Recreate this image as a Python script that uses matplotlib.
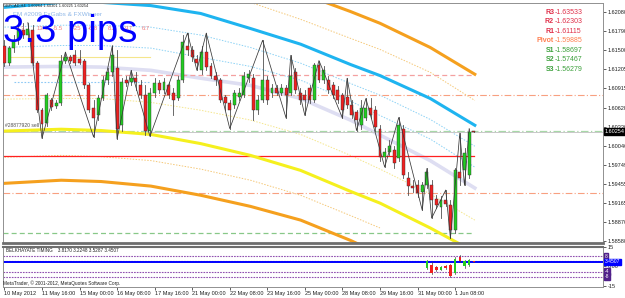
import matplotlib
matplotlib.use("Agg")
import matplotlib.pyplot as plt
import matplotlib.transforms as mtrans

plt.rcParams['font.family'] = ['Liberation Sans', 'DejaVu Sans']

# GBPCAD H4 candles (bar 0 = 10 May 2012)
opens = [1.6157, 1.6131, 1.6153, 1.6165, 1.6180, 1.6173, 1.6180, 1.6130, 1.6058, 1.6038,
         1.6073, 1.6064, 1.6069, 1.6134, 1.6139, 1.6142, 1.6137, 1.6134, 1.6096, 1.6061,
         1.6050, 1.6076, 1.6104, 1.6116, 1.6122, 1.6035, 1.6104, 1.6101, 1.6107, 1.6096,
         1.6081, 1.6027, 1.6085, 1.6099, 1.6089, 1.6096, 1.6085, 1.6076, 1.6104, 1.6157,
         1.6150, 1.6137, 1.6119, 1.6147, 1.6125, 1.6111, 1.6104, 1.6078, 1.6069, 1.6066,
         1.6079, 1.6081, 1.6107, 1.6107, 1.6058, 1.6073, 1.6104, 1.6084, 1.6092, 1.6085,
         1.6092, 1.6084, 1.6116, 1.6085, 1.6081, 1.6092, 1.6073, 1.6127, 1.6104, 1.6104,
         1.6096, 1.6089, 1.6081, 1.6078, 1.6066, 1.6055, 1.6035, 1.6046, 1.6061, 1.6058,
         1.6030, 1.5986, 1.5994, 1.5997, 1.5985, 1.6030, 1.5954, 1.5942, 1.5943, 1.5933,
         1.5943, 1.5943, 1.5923, 1.5910, 1.5920, 1.5913, 1.5875, 1.5963, 1.5966, 1.5959,
         1.6026]
highs = [1.6165, 1.6157, 1.6173, 1.6188, 1.6192, 1.6192, 1.6188, 1.6134, 1.6061, 1.6084,
         1.6076, 1.6073, 1.6142, 1.6147, 1.6143, 1.6150, 1.6150, 1.6137, 1.6099, 1.6073,
         1.6081, 1.6111, 1.6122, 1.6157, 1.6150, 1.6107, 1.6111, 1.6119, 1.6116, 1.6104,
         1.6096, 1.6092, 1.6107, 1.6104, 1.6107, 1.6101, 1.6092, 1.6111, 1.6173, 1.6176,
         1.6157, 1.6142, 1.6157, 1.6176, 1.6131, 1.6116, 1.6107, 1.6081, 1.6073, 1.6089,
         1.6092, 1.6116, 1.6119, 1.6113, 1.6081, 1.6165, 1.6110, 1.6098, 1.6096, 1.6098,
         1.6096, 1.6142, 1.6122, 1.6092, 1.6089, 1.6096, 1.6131, 1.6134, 1.6125, 1.6110,
         1.6101, 1.6095, 1.6085, 1.6107, 1.6073, 1.6058, 1.6073, 1.6076, 1.6076, 1.6064,
         1.6035, 1.6000, 1.6012, 1.6004, 1.6047, 1.6035, 1.5963, 1.5951, 1.5951, 1.5948,
         1.5969, 1.5951, 1.5928, 1.5927, 1.5936, 1.5920, 1.5969, 1.6023, 1.6000, 1.6030,
         1.6027]
lows = [1.6125, 1.6127, 1.6147, 1.6159, 1.6168, 1.6165, 1.6127, 1.6055, 1.6015, 1.6034,
        1.6058, 1.6061, 1.6066, 1.6131, 1.6131, 1.6127, 1.6128, 1.6092, 1.6055, 1.6017,
        1.6043, 1.6073, 1.6098, 1.6111, 1.6014, 1.6027, 1.6095, 1.6096, 1.6089, 1.6076,
        1.6020, 1.6018, 1.6079, 1.6084, 1.6085, 1.6076, 1.6050, 1.6073, 1.6101, 1.6142,
        1.6134, 1.6119, 1.6113, 1.6119, 1.6107, 1.6096, 1.6070, 1.6058, 1.6030, 1.6061,
        1.6073, 1.6078, 1.6101, 1.6043, 1.6052, 1.6070, 1.6067, 1.6079, 1.6081, 1.6082,
        1.6046, 1.6081, 1.6084, 1.6067, 1.6050, 1.6069, 1.6070, 1.6101, 1.6099, 1.6085,
        1.6076, 1.6069, 1.6046, 1.6061, 1.6046, 1.6027, 1.6030, 1.6043, 1.6046, 1.6027,
        1.5981, 1.5971, 1.5989, 1.5969, 1.5981, 1.5954, 1.5928, 1.5933, 1.5925, 1.5905,
        1.5939, 1.5893, 1.5908, 1.5893, 1.5911, 1.5862, 1.5870, 1.5943, 1.5943, 1.5954,
        1.6024]
closes = [1.6131, 1.6153, 1.6165, 1.6180, 1.6173, 1.6183, 1.6130, 1.6058, 1.6037, 1.6081,
          1.6063, 1.6069, 1.6134, 1.6139, 1.6134, 1.6130, 1.6131, 1.6096, 1.6058, 1.6046,
          1.6076, 1.6104, 1.6116, 1.6142, 1.6030, 1.6101, 1.6099, 1.6107, 1.6101, 1.6081,
          1.6027, 1.6085, 1.6099, 1.6089, 1.6101, 1.6081, 1.6073, 1.6104, 1.6162, 1.6150,
          1.6139, 1.6131, 1.6147, 1.6124, 1.6111, 1.6104, 1.6073, 1.6069, 1.6058, 1.6084,
          1.6084, 1.6110, 1.6113, 1.6058, 1.6073, 1.6104, 1.6073, 1.6092, 1.6085, 1.6092,
          1.6081, 1.6111, 1.6089, 1.6073, 1.6073, 1.6073, 1.6127, 1.6104, 1.6119, 1.6089,
          1.6081, 1.6073, 1.6058, 1.6066, 1.6050, 1.6043, 1.6061, 1.6061, 1.6050, 1.6032,
          1.5986, 1.5994, 1.6004, 1.5978, 1.6035, 1.5959, 1.5942, 1.5939, 1.5931, 1.5943,
          1.5963, 1.5920, 1.5913, 1.5920, 1.5914, 1.5875, 1.5966, 1.5954, 1.5992, 1.6024,
          1.6025]

# zigzag swing points
zz_bar = [5, 8, 13, 19, 23, 24, 27, 31, 39, 41, 43, 48, 55, 60, 61, 64, 67, 72, 73, 75,
          77, 81, 84, 89, 90, 91, 94, 95, 97, 98, 99]
zz_val = [1.6192, 1.6015, 1.6147, 1.6017, 1.6157, 1.6014, 1.6119, 1.6018, 1.6176, 1.6119,
          1.6176, 1.6030, 1.6165, 1.6046, 1.6142, 1.6050, 1.6134, 1.6046, 1.6107, 1.6027,
          1.6076, 1.5971, 1.6047, 1.5905, 1.5969, 1.5893, 1.5936, 1.5862, 1.6023, 1.5943,
          1.6030]

# regression channel curves read at these bars
curve_bar = [-0.6, 12.1, 20.6, 31.2, 41.8, 52.4, 63.1, 73.7, 80.0, 90.7, 100.2]
blue_curve = [1.6215, 1.6223, 1.6223, 1.6218, 1.6206, 1.6183, 1.6159, 1.6128, 1.6111, 1.6076, 1.6035]
mid_curve = [1.6124, 1.6125, 1.6124, 1.6119, 1.6107, 1.6096, 1.6076, 1.6043, 1.6020, 1.5981, 1.5939]
yellow_curve = [1.6026, 1.6029, 1.6027, 1.6021, 1.6007, 1.5989, 1.5966, 1.5934, 1.5916, 1.5878, 1.5841]
blue_dot1 = [1.6185, 1.6188, 1.6188, 1.6185, 1.6173, 1.6154, 1.6130, 1.6099, 1.6081, 1.6044, 1.6003]
blue_dot2 = [1.6154, 1.6157, 1.6157, 1.6153, 1.6139, 1.6125, 1.6104, 1.6072, 1.6050, 1.6014, 1.5971]
yellow_dot = [1.6075, 1.6076, 1.6076, 1.6070, 1.6058, 1.6043, 1.6021, 1.5989, 1.5968, 1.5930, 1.5890]
orange_low_bar = [-0.6, 12.1, 20.6, 31.2, 41.8, 52.4, 63.1, 73.7, 80.0]
orange_low = [1.5946, 1.5951, 1.5949, 1.5942, 1.5928, 1.5911, 1.5890, 1.5859, 1.5838]
orange_low_dot = [1.5986, 1.5989, 1.5987, 1.5981, 1.5968, 1.5951, 1.5928, 1.5897, 1.5878]
orange_top_bar = [52.4, 63.1, 73.7, 80.0, 90.7, 100.2]
orange_top = [1.6261, 1.6237, 1.6209, 1.6191, 1.6154, 1.6113]
orange_top_dot_bar = [41.8, 52.4, 63.1, 73.7, 80.0, 90.7, 100.2]
orange_top_dot = [1.6257, 1.6223, 1.6197, 1.6168, 1.6151, 1.6116, 1.6073]

# pivot levels
pivot_names = ["R3", "R2", "R1", "Pivot", "S1", "S2", "S3"]
pivot_values = [1.63533, 1.62303, 1.61115, 1.59885, 1.58697, 1.57467, 1.56279]
level_hi = 1.6081
level_lo = 1.5931
order_price = 1.6027
last_price = 1.60254

price_ticks = [1.62080, 1.61790, 1.61500, 1.61205, 1.60915, 1.60620, 1.60330,
               1.60040, 1.59749, 1.59455, 1.59165, 1.58870, 1.58580]
date_labels = ["10 May 2012", "11 May 16:00", "15 May 00:00", "16 May 08:00", "17 May 16:00",
               "21 May 00:00", "22 May 08:00", "23 May 16:00", "25 May 00:00", "28 May 08:00",
               "29 May 16:00", "31 May 00:00", "1 Jun 08:00"]
date_bars = [0, 8, 16, 24, 32, 40, 48, 56, 64, 72, 80, 88, 96]

gap_values = ["-6.3", "13.3", "-5.5", "-25", "-6.8", "8.2", "9.7", "6.7"]

# Belkhayate timing candles (last bars only)
bt_bar = [90, 91, 92, 93, 94, 95, 96, 97, 98, 99, 100]
bt_open = [-1.5, 1.0, -0.5, -2.5, 0.5, 1.0, -5.0, 7.5, 0.5, 1.0, 3.817]
bt_high = [4.9, 3.0, 0.0, 0.5, 1.0, 1.5, 7.0, 8.5, 5.0, 6.0, 3.817]
bt_low = [-2.1, -6.0, -3.5, -3.0, -2.0, -8.0, -6.0, 3.5, -1.0, 0.0, 3.2248]
bt_close = [4.0, -5.0, -3.0, -0.5, -1.5, -7.5, 6.0, 4.0, 4.5, 5.0, 3.4507]
bt_last = 3.4507

W, H = 625, 298


def box(x0, y0, x1, y1):
    return [x0 / W, 1 - y1 / H, (x1 - x0) / W, (y1 - y0) / H]


fig = plt.figure(figsize=(6.25, 2.98), dpi=100)
fig.patch.set_facecolor("white")
ax = fig.add_axes(box(3, 3, 603, 243))
axi = fig.add_axes(box(3, 247, 603, 287))

xmin, xmax = -0.3, 127.5
nb = len(closes)

# ---- channel lines
ax.plot(curve_bar, mid_curve, color="#dedef2", lw=2.6, zorder=1)
ax.plot(curve_bar, blue_curve, color="#1eb4f0", lw=2.2, zorder=2)
ax.plot(curve_bar, yellow_curve, color="#f5f01e", lw=2.2, zorder=2)
ax.plot(orange_low_bar, orange_low, color="#f5a01e", lw=2.2, zorder=2)
ax.plot(orange_top_bar, orange_top, color="#f5a01e", lw=2.2, zorder=2)
ax.plot(curve_bar, blue_dot1, color="#8cd2f5", lw=0.7, ls=(0, (1.5, 1.5)), zorder=1)
ax.plot(curve_bar, blue_dot2, color="#8cd2f5", lw=0.7, ls=(0, (1.5, 1.5)), zorder=1)
ax.plot(curve_bar, yellow_dot, color="#f5e68c", lw=0.7, ls=(0, (1.5, 1.5)), zorder=1)
ax.plot(orange_low_bar, orange_low_dot, color="#f5c878", lw=0.7, ls=(0, (1.5, 1.5)), zorder=1)
ax.plot(orange_top_dot_bar, orange_top_dot, color="#f5c878", lw=0.7, ls=(0, (1.5, 1.5)), zorder=1)

# ---- horizontal levels
ax.plot([xmin, 100], [pivot_values[2]] * 2, color="#f4a0a0", lw=0.9, ls=(0, (4, 2.5)), zorder=1)
ax.plot([xmin, 100], [pivot_values[3]] * 2, color="#ff2020", lw=0.9, zorder=1)
ax.plot([xmin, 100], [pivot_values[4]] * 2, color="#88c888", lw=0.9, ls=(0, (4, 2.5)), zorder=1)
ax.axhline(level_hi, color="#f8a080", lw=0.8, ls=(0, (6, 2, 1, 2)), zorder=1)
ax.axhline(level_lo, color="#f8a080", lw=0.8, ls=(0, (6, 2, 1, 2)), zorder=1)
ax.axhline(order_price, color="#a8d8a8", lw=0.9, ls=(0, (6, 2, 1, 2)), zorder=1)
ax.axhline(last_price, color="#c8c8c8", lw=0.7, zorder=1)
ax.plot([1.5, 31], [1.6139, 1.6139], color="#f5e68c", lw=0.8, zorder=1)
ax.plot([2, 31], [1.6101, 1.6101], color="#8cc8f5", lw=0.8, ls=(0, (1.5, 1.5)), zorder=1)

# ---- candles
for i in range(nb):
    o, h, l, c = opens[i], highs[i], lows[i], closes[i]
    ax.plot([i, i], [l, h], color="#505050", lw=0.6, zorder=3)
    col = "#22cc22" if c >= o else "#f02020"
    lo, hi = min(o, c), max(o, c)
    ax.bar(i, max(hi - lo, 0.00003), bottom=lo, width=0.62, color=col,
           edgecolor="#303030", linewidth=0.3, zorder=4)

ax.plot(zz_bar, zz_val, color="#383838", lw=0.55, zorder=5)

ax.set_xlim(xmin, xmax)
ax.set_ylim(1.5855, 1.6222)
ax.set_xticks([])
ax.yaxis.tick_right()
ax.set_yticks(price_ticks)
ax.set_yticklabels(["%.5f" % v for v in price_ticks])
ax.tick_params(axis="y", labelsize=4, length=2, width=0.5, pad=1.5, colors="#202020")
for s in ax.spines.values():
    s.set_color("#909090")
    s.set_linewidth(0.7)
ax.spines["bottom"].set_color("#6e6e6e")
ax.spines["bottom"].set_linewidth(2)

# last price box
tr = mtrans.blended_transform_factory(ax.transAxes, ax.transData)
ax.text(1.003, last_price, "%.5f" % last_price, transform=tr, fontsize=4, color="white",
        va="center", ha="left", bbox=dict(boxstyle="square,pad=0.15", fc="black", ec="black"),
        zorder=10, clip_on=False)

# ---- texts on main chart
fig.text(3 / W, 1 - 6 / H, "GBPCAD,H4  1.60264 1.60301 1.60225 1.60254", fontsize=2.8,
         color="#202020", va="center")
fig.text(13 / W, 1 - 15 / H, "FM #2009 FxGabs & FXWinner", fontsize=4.6, color="#90b8e8",
         va="center")
gap_x = [15, 37, 53, 73, 88, 108, 125, 142]
for gx, gv in zip(gap_x, gap_values):
    fig.text(gx / W, 1 - 28 / H, gv, fontsize=4.2, color="#f08080", va="center")
fig.text(3 / W, 1 - 42 / H, "3.3 pips", fontsize=27.5, color="#0000ff", va="baseline")
fig.text(5 / W, 1 - 126 / H, "#28877920 sell", fontsize=3.6, color="#505050", va="center")

pivot_colors = ["#e0304a", "#e0304a", "#e0304a", "#ff7f50", "#3ca03c", "#3ca03c", "#3ca03c"]
for k, (nm, pv, pc) in enumerate(zip(pivot_names, pivot_values, pivot_colors)):
    yy = 1 - (12 + 9.6 * k) / H
    fig.text(554 / W, yy, nm, fontsize=5, color=pc, fontweight="bold", ha="right", va="center")
    fig.text(555 / W, yy, "-%.5f" % pv, fontsize=5, color=pc, ha="left", va="center")

# ---- indicator panel
for lev in [8, 4, -4, -8]:
    axi.axhline(lev, color="#9050b0", lw=0.8, ls=(0, (1.5, 1)), zorder=1)
axi.axhline(bt_last, color="#0000ff", lw=1.4, zorder=2)
for i in range(len(bt_bar)):
    o, h, l, c = bt_open[i], bt_high[i], bt_low[i], bt_close[i]
    axi.plot([bt_bar[i]] * 2, [l, h], color="#404040", lw=0.5, zorder=3)
    col = "#22cc22" if c >= o else "#f02020"
    axi.bar(bt_bar[i], max(abs(c - o), 0.3), bottom=min(o, c), width=0.55, color=col,
            linewidth=0, zorder=4)

axi.set_xlim(xmin, xmax)
axi.set_ylim(-16, 15)
axi.yaxis.tick_right()
axi.set_yticks([15, 0, -15])
axi.set_yticklabels(["15", "0.00", "-15"])
axi.tick_params(axis="y", labelsize=4, length=2, width=0.5, pad=1.5, colors="#202020")
axi.set_xticks(date_bars)
axi.set_xticklabels(date_labels)
axi.tick_params(axis="x", labelsize=4, length=2, width=0.5, pad=1, colors="#202020")
for lab in axi.get_xticklabels():
    lab.set_ha("left")
for s in axi.spines.values():
    s.set_color("#909090")
    s.set_linewidth(0.7)
axi.spines["top"].set_color("#6e6e6e")
axi.spines["top"].set_linewidth(1.5)

tri = mtrans.blended_transform_factory(axi.transAxes, axi.transData)
for lev, txt in [(8, "8"), (-4, "-4"), (-8, "-8")]:
    axi.text(1.003, lev, txt, transform=tri, fontsize=3.6, color="white", va="center",
             ha="left", bbox=dict(boxstyle="square,pad=0.15", fc="#50208a", ec="#50208a"),
             clip_on=False, zorder=10)
axi.text(1.003, bt_last, "%.4f" % bt_last, transform=tri, fontsize=3.6, color="white",
         va="center", ha="left", bbox=dict(boxstyle="square,pad=0.15", fc="#0000ff", ec="#0000ff"),
         clip_on=False, zorder=11)

fig.text(6 / W, 1 - 251 / H, "BELKHAYATE TIMING    3.8170 3.2248 3.5287 3.4507", fontsize=3.3,
         color="#202020", va="center")
fig.text(3 / W, 1 - 283 / H, "MetaTrader, \u00a9 2001-2012, MetaQuotes Software Corp.", fontsize=3.4,
         color="#202020", va="center")

fig.savefig("out.png", dpi=100, facecolor="white")
